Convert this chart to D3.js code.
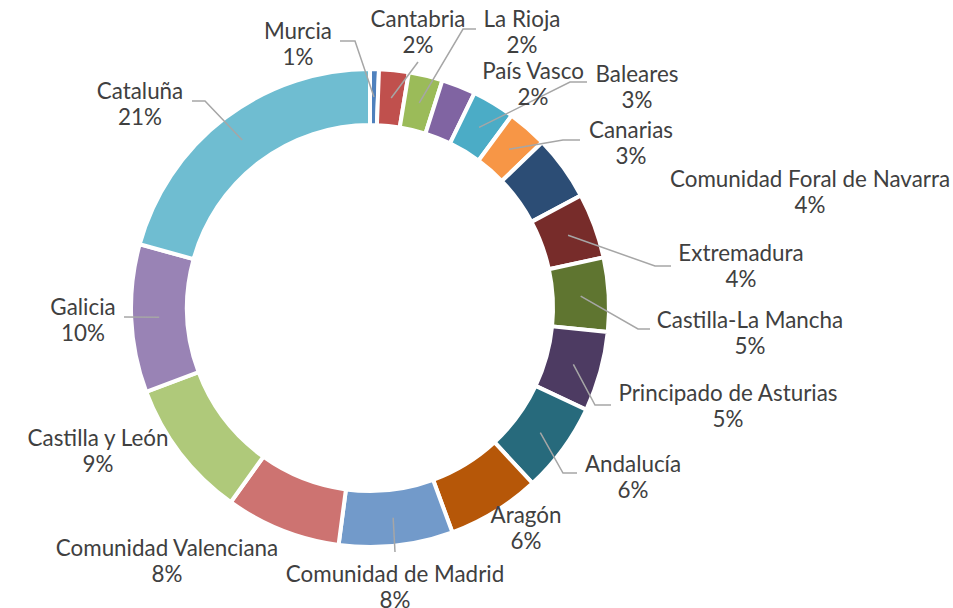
<!DOCTYPE html>
<meta charset="utf-8">
<style>
  body { margin: 0; background: #fff; }
  .lbl { fill: #404040; font-size: 22.4px; font-family: "Lato", "Open Sans", sans-serif; }
  .leader { stroke: #a6a6a6; stroke-width: 1.5; fill: none; }
</style>
<script src="https://d3js.org/d3.v7.min.js"></script>
<div id="chart"></div>
<script>
  // regions, clockwise from 12 o'clock
  const regions = ["Murcia", "Cantabria", "La Rioja", "País Vasco", "Baleares", "Canarias",
    "Comunidad Foral de Navarra", "Extremadura", "Castilla-La Mancha", "Principado de Asturias",
    "Andalucía", "Aragón", "Comunidad de Madrid", "Comunidad Valenciana", "Castilla y León",
    "Galicia", "Cataluña"];
  const shares = [0.6, 2.0, 2.3, 2.3, 2.9, 2.7, 4.4, 4.4, 5.0, 5.4, 6.1, 6.3, 7.7, 7.8, 9.4, 10.0, 20.7];
  const colors = ["#4f81bd", "#c0504d", "#9bbb59", "#8064a2", "#4bacc6", "#f79646",
    "#2c4d75", "#772c2a", "#5f7530", "#4d3b62", "#276a7c", "#b65708",
    "#729aca", "#cd7371", "#afc97a", "#9983b5", "#6fbdd1"];

  // label placement (first line centre) and leader line knee/end, null = no leader
  const labelPos = [[298, 30], [418, 18], [522, 18], [533, 70], [637, 73], [631, 129],
    [810, 178], [741, 252], [750, 319], [728, 392], [633, 463], [526, 514],
    [395, 573], [167, 547], [98, 437], [83, 306], [140, 90]];
  const leaders = [
    [[355, 41], [340, 41]], [[418, 62], null], [[463, 29], [476, 29]], null,
    [[570, 82], [587, 82]], [[563, 140], [580, 140]], null,
    [[655, 266], [671, 266]], [[638, 329], [650, 329]], [[595, 405], [611, 405]],
    [[563, 473], [577, 473]], null, [[395, 552], null], null, null,
    [[124, 317], null], [[205, 101], [192, 101]]
  ];

  const W = 953, H = 608, cx = 370, cy = 308, rOut = 239, rIn = 183;

  const svg = d3.select("#chart").append("svg")
    .attr("width", W).attr("height", H);

  const g = svg.append("g").attr("transform", `translate(${cx},${cy})`);

  const data = regions.map((r, i) => ({ name: r, value: shares[i], i: i }));
  const total = d3.sum(shares);

  const pie = d3.pie().value(d => d.value).sort(null);
  const arc = d3.arc().innerRadius(rIn).outerRadius(rOut);
  const mid = d3.arc().innerRadius((rIn + rOut) / 2).outerRadius((rIn + rOut) / 2);
  const arcs = pie(data);

  g.selectAll("path.slice")
    .data(arcs)
    .join("path")
    .attr("class", "slice")
    .attr("d", arc)
    .attr("fill", d => colors[d.data.i])
    .attr("stroke", "#fff")
    .attr("stroke-width", 4)
    .attr("stroke-linejoin", "miter");

  // leader lines
  svg.selectAll("path.leader")
    .data(arcs.filter(d => leaders[d.data.i]))
    .join("path")
    .attr("class", "leader")
    .attr("d", d => {
      const c = mid.centroid(d);
      const L = leaders[d.data.i];
      let p = `M${cx + c[0]},${cy + c[1]}L${L[0][0]},${L[0][1]}`;
      if (L[1]) p += `L${L[1][0]},${L[1][1]}`;
      return p;
    });

  // labels
  const lbl = svg.selectAll("g.lab")
    .data(data)
    .join("g")
    .attr("class", "lab");

  lbl.append("text")
    .attr("class", "lbl")
    .attr("text-anchor", "middle")
    .attr("dominant-baseline", "central")
    .attr("x", d => labelPos[d.i][0])
    .attr("y", d => labelPos[d.i][1])
    .text(d => d.name);

  lbl.append("text")
    .attr("class", "lbl")
    .attr("text-anchor", "middle")
    .attr("dominant-baseline", "central")
    .attr("x", d => labelPos[d.i][0])
    .attr("y", d => labelPos[d.i][1] + 26)
    .text(d => Math.round(d.value / total * 100) + "%");
</script>
